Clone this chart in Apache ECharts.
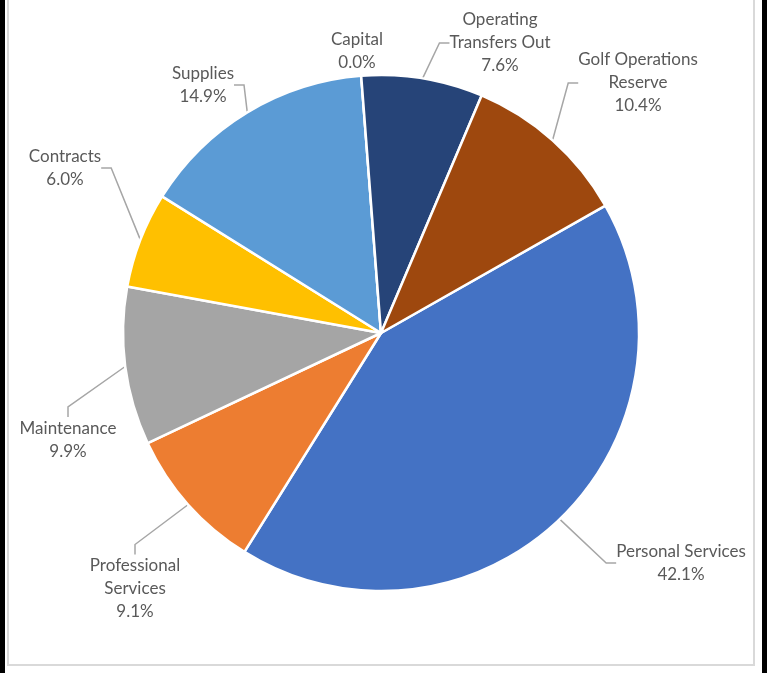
<!DOCTYPE html>
<html>
<head>
<meta charset="utf-8">
<script src="https://cdn.jsdelivr.net/npm/echarts@6/dist/echarts.min.js"></script>
<style>
  html, body { margin: 0; padding: 0; background: #fff; }
  #wrap { position: relative; width: 767px; height: 673px; overflow: hidden; }
  #main { position: absolute; left: 0; top: 0; width: 767px; height: 673px; }
  .strip { position: absolute; top: 0; height: 673px; background: #000; }
  #frame { position: absolute; left: 7px; top: -4px; width: 744px; height: 666px; border: 2px solid #d9d9d9; pointer-events: none; }
</style>
</head>
<body>
<div id="wrap">
  <div id="main"></div>
  <div id="frame"></div>
  <div class="strip" style="left:0;width:5px"></div>
  <div class="strip" style="left:762px;width:5px"></div>
</div>
<script>
  // budget categories, in the order they are drawn (clockwise)
  const categories = ['Personal Services', 'Professional Services', 'Maintenance', 'Contracts', 'Supplies', 'Capital', 'Operating Transfers Out', 'Golf Operations Reserve'];
  const labelText = ['Personal Services', 'Professional\nServices', 'Maintenance', 'Contracts', 'Supplies', 'Capital', 'Operating\nTransfers Out', 'Golf Operations\nReserve'];
  const shares = [42.1, 9.1, 9.9, 6.0, 14.9, 0.0, 7.6, 10.4];
  const colors = ['#4472C4', '#ED7D31', '#A5A5A5', '#FFC000', '#5B9BD5', '#70AD47', '#264478', '#9E480E'];
  // where excel put each data label (centre of the text block)
  const labelPos = [[681, 563], [135, 589], [68, 440], [65, 168], [203, 85], [357, 51], [500, 43], [638, 83]];
  const noLeader = ['Capital'];

  const chart = echarts.init(document.getElementById('main'));
  const data = categories.map(function (name, i) {
    return {
      name: name,
      value: shares[i],
      itemStyle: { color: colors[i] },
      labelLine: { show: noLeader.indexOf(name) < 0 }
    };
  });

  const option = {
    animation: false,
    series: [
      {
        type: 'pie',
        center: [381, 333],
        radius: 258,
        startAngle: 29.6,
        clockwise: true,
        avoidLabelOverlap: false,
        itemStyle: {
          borderColor: '#fff',
          borderWidth: 2.5
        },
        label: {
          show: true,
          position: 'outside',
          color: '#595959',
          fontFamily: 'Lato',
          fontSize: 17,
          lineHeight: 23,
          align: 'center',
          formatter: function (p) {
            return labelText[p.dataIndex] + '\n' + p.percent.toFixed(1) + '%';
          }
        },
        labelLine: {
          show: true,
          length: 10,
          length2: 10,
          lineStyle: { color: '#A6A6A6', width: 1.5 }
        },
        labelLayout: function (params) {
          const pos = labelPos[params.dataIndex];
          return {
            x: pos[0],
            y: pos[1],
            align: 'center',
            verticalAlign: 'middle'
          };
        },
        data: data
      }
    ]
  };
  chart.setOption(option);
</script>
</body>
</html>
